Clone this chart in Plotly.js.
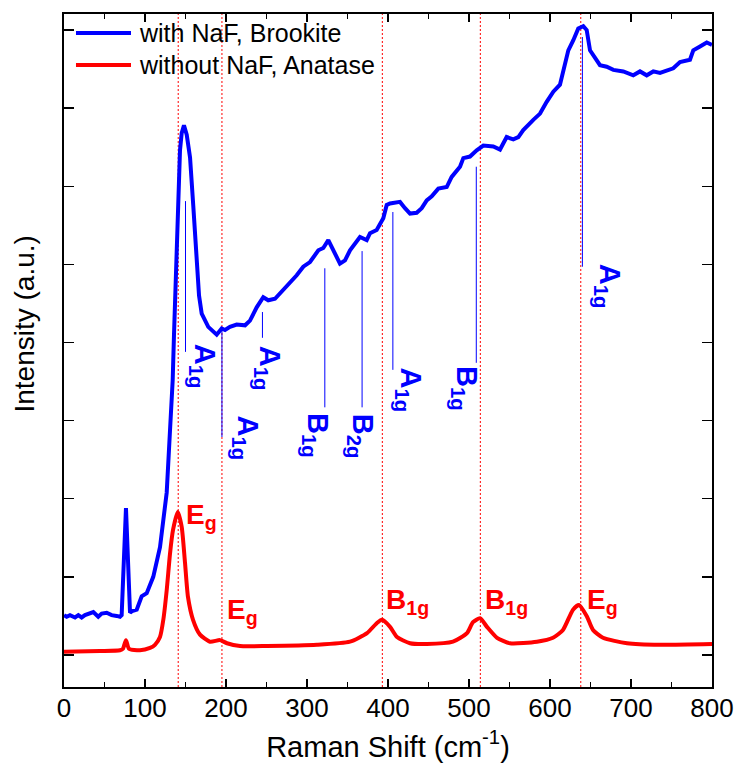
<!DOCTYPE html>
<html><head><meta charset="utf-8">
<script src="https://cdn.plot.ly/plotly-3.0.1.min.js"></script>
<style>html,body{margin:0;padding:0;background:#fff}#chart{width:736px;height:767px}</style>
</head><body><div id="chart"></div>
<script>
// ---- data ----
const seriesNames = ['with NaF, Brookite', 'without NaF, Anatase'];

const brookiteX = [0, 3.3, 7.4, 13.6, 17.7, 21.8, 25.9, 32.1, 36.2, 42.3, 46.5, 52.7, 58.8, 65, 69.1, 71.2,
  76.5, 81.5, 84, 89.8, 95.9, 102.1, 110.2, 118.5, 122.6, 126.8, 130.9, 134.2, 135.8, 137.4, 139.1, 141.1,
  143.2, 145.3, 148.1, 151.5, 155.6, 159.6, 163.8, 166.7, 170, 178.1, 188.5, 194.7, 198.8, 204.9, 213.2,
  223.5, 229.6, 237.9, 246, 252.2, 260.5, 268.8, 279, 287.3, 295.4, 303.7, 314, 320.1, 326.3, 332.5, 340.7,
  346.9, 353.1, 365.4, 373.7, 377.8, 386, 394.2, 398.4, 402.5, 414.8, 421, 427.2, 435.4, 441.6, 447.8, 454,
  462.1, 472.5, 478.6, 488.9, 493, 501.2, 509.5, 517.7, 530, 538.3, 546.5, 554.7, 560.9, 567, 579.4, 587.7,
  595.9, 604.1, 612.3, 616.4, 622.6, 628.8, 634.9, 641.1, 645.3, 649.4, 653.5, 661.7, 670, 678.2, 690.5,
  702.8, 711.1, 719.4, 727.5, 735.8, 752.2, 760.5, 772.8, 776.9, 785.2, 793.5, 800];
const brookiteY = [0.51, 0.49, 0.51, 0.48, 0.51, 0.48, 0.51, 0.53, 0.55, 0.49, 0.53, 0.54, 0.51, 0.50, 0.49, 0.51,
  1.88, 0.54, 0.56, 0.58, 0.75, 0.79, 1.00, 1.38, 1.76, 2.08, 2.88, 3.52, 4.10, 4.60, 5.10, 5.82,
  6.46, 6.68, 6.78, 6.66, 6.37, 5.75, 5.00, 4.60, 4.37, 4.20, 4.10, 4.18, 4.16, 4.20, 4.23,
  4.22, 4.28, 4.45, 4.58, 4.54, 4.56, 4.65, 4.77, 4.86, 4.97, 5.03, 5.18, 5.21, 5.31, 5.18, 5.01,
  5.05, 5.18, 5.35, 5.31, 5.40, 5.44, 5.59, 5.76, 5.78, 5.80, 5.72, 5.65, 5.66, 5.72, 5.82, 5.87,
  5.97, 5.99, 6.12, 6.25, 6.36, 6.38, 6.46, 6.52, 6.51, 6.47, 6.63, 6.60, 6.63, 6.72, 6.85, 6.93,
  7.08, 7.21, 7.30, 7.47, 7.74, 7.87, 8.02, 8.05, 8.00, 7.74, 7.68, 7.55, 7.53, 7.49, 7.47,
  7.42, 7.47, 7.42, 7.47, 7.45, 7.51, 7.59, 7.62, 7.74, 7.79, 7.84, 7.81];

const anataseX = [0, 44.4, 69.1, 72.8, 76.5, 80.2, 93.8, 106.2, 112.3, 118.5, 122.6, 126.8, 130.9, 134.6, 140.4,
  145.3, 149.4, 153.1, 159.3, 167.9, 180.2, 192.6, 201.2, 217.3, 250.6, 312.3, 353.1, 374.1, 386.4, 392.6,
  402.5, 411.1, 427.2, 448.1, 480.2, 497.5, 504.9, 513.6, 522.2, 534.6, 550.6, 583.9, 603.7, 616, 628.4,
  635.8, 645.7, 653.1, 665.4, 695.1, 735.8, 800];
const anataseY = [0.04, 0.05, 0.06, 0.08, 0.19, 0.08, 0.06, 0.09, 0.13, 0.23, 0.45, 0.83, 1.30, 1.60, 1.83,
  1.64, 1.18, 0.74, 0.45, 0.26, 0.17, 0.19, 0.15, 0.115, 0.115, 0.13, 0.17, 0.28, 0.41, 0.45,
  0.36, 0.23, 0.15, 0.14, 0.17, 0.28, 0.42, 0.47, 0.36, 0.22, 0.15, 0.17, 0.22, 0.32, 0.58,
  0.64, 0.49, 0.32, 0.22, 0.15, 0.13, 0.14];

// Raman modes
const brookiteModes = [150, 195, 245, 322, 368, 406, 509, 640];
const brookiteModeTop = [5.81, 4.16, 4.39, 4.95, 5.17, 5.67, 6.25, 7.91];
const brookiteModeBottom = [3.88, 2.79, 4.06, 3.17, 3.17, 3.65, 3.74, 4.97];
const brookiteLabels = ['A<sub>1g</sub>', 'A<sub>1g</sub>', 'A<sub>1g</sub>', 'B<sub>1g</sub>', 'B<sub>2g</sub>', 'A<sub>1g</sub>', 'B<sub>1g</sub>', 'A<sub>1g</sub>'];
const anataseModes = [141, 195, 393, 514, 638];
const anataseLabels = ['E<sub>g</sub>', 'E<sub>g</sub>', 'B<sub>1g</sub>', 'B<sub>1g</sub>', 'E<sub>g</sub>'];

const xTickVals = [0, 100, 200, 300, 400, 500, 600, 700, 800];
const xTickText = ['0', '100', '200', '300', '400', '500', '600', '700', '800'];

// ---- layout placement (pixels / paper) ----
const blueLabelDx = [17, 25, 5, -9, -1, 16, -12, 25];
const blueLabelDy = [10, 23, -6, -4, -4, 4, -1, 5];
const redLabelY = [2.02, 0.81, 0.94, 0.94, 0.94];
const redLabelDx = [6, 3, 2, 3, 4];

const FONT = 'Liberation Sans, Arial, sans-serif';
const BLUE = '#0000ff', RED = '#ff0000';

const traces = [
  {x: brookiteX, y: brookiteY, type: 'scatter', mode: 'lines', name: seriesNames[0],
   line: {color: BLUE, width: 4}, showlegend: false},
  {x: anataseX, y: anataseY, type: 'scatter', mode: 'lines', name: seriesNames[1],
   line: {color: RED, width: 4, shape: 'spline', smoothing: 0.6}, showlegend: false}
];

const shapes = [];
anataseModes.forEach(m => shapes.push({type: 'line', xref: 'x', yref: 'paper', x0: m, x1: m, y0: 0, y1: 1,
  line: {color: RED, width: 1, dash: '2px,2px'}, layer: 'below'}));
brookiteModes.forEach((m, i) => shapes.push({type: 'line', xref: 'x', yref: 'y', x0: m, x1: m,
  y0: brookiteModeBottom[i], y1: brookiteModeTop[i], line: {color: BLUE, width: 1}, layer: 'below'}));

// legend (manual, to match long line samples)
const legY = [0.9718, 0.9242];
[BLUE, RED].forEach((c, i) => shapes.push({type: 'line', xref: 'paper', yref: 'paper',
  x0: 0.0185, x1: 0.1034, y0: legY[i], y1: legY[i], line: {color: c, width: 4}}));

const annotations = [];
seriesNames.forEach((n, i) => annotations.push({xref: 'paper', yref: 'paper', x: 0.1127, y: legY[i],
  xanchor: 'left', yanchor: 'middle', text: n, showarrow: false, font: {family: FONT, size: 25, color: '#000'}}));

brookiteModes.forEach((m, i) => annotations.push({x: m, y: brookiteModeBottom[i], xref: 'x', yref: 'y',
  text: brookiteLabels[i], showarrow: false, textangle: 90, xanchor: 'center', yanchor: 'top',
  xshift: blueLabelDx[i], yshift: blueLabelDy[i],
  font: {family: FONT, size: 29, color: BLUE, weight: 'bold'}}));

anataseModes.forEach((m, i) => annotations.push({x: m, y: redLabelY[i], xref: 'x', yref: 'y',
  text: anataseLabels[i], showarrow: false, xanchor: 'left', yanchor: 'top', xshift: redLabelDx[i],
  font: {family: FONT, size: 28, color: RED, weight: 'bold'}}));

annotations.push({xref: 'paper', yref: 'paper', x: -0.0602, y: 0.54, text: 'Intensity (a.u.)',
  textangle: -90, showarrow: false, xanchor: 'center', yanchor: 'middle', font: {family: FONT, size: 28, color: '#000'}});

const layout = {
  width: 736, height: 767,
  margin: {l: 64, r: 24, t: 14, b: 80},
  paper_bgcolor: '#fff', plot_bgcolor: '#fff',
  font: {family: FONT, color: '#000'},
  showlegend: false,
  xaxis: {
    range: [0, 800], tickvals: xTickVals, ticktext: xTickText,
    ticks: 'inside', ticklen: 8, tickwidth: 1.5, tickcolor: '#000',
    minor: {dtick: 50, tick0: 0, ticks: 'inside', ticklen: 5, tickwidth: 1.5, tickcolor: '#000'},
    showline: true, linewidth: 2, linecolor: '#000', mirror: 'ticks',
    showgrid: false, zeroline: false,
    tickfont: {family: FONT, size: 26, color: '#000'},
    ticklabelstandoff: -3,
    title: {text: 'Raman Shift (cm<sup>-1</sup>)', font: {family: FONT, size: 29, color: '#000'}, standoff: 14}
  },
  yaxis: {
    range: [-0.41, 8.205], dtick: 1, tick0: 0,
    ticks: 'inside', ticklen: 10, tickwidth: 1.5, tickcolor: '#000',
    showticklabels: false,
    showline: true, linewidth: 2, linecolor: '#000', mirror: 'ticks',
    showgrid: false, zeroline: false
  },
  shapes: shapes,
  annotations: annotations
};

Plotly.newPlot('chart', traces, layout, {displayModeBar: false, staticPlot: true});
</script>
</body></html>
